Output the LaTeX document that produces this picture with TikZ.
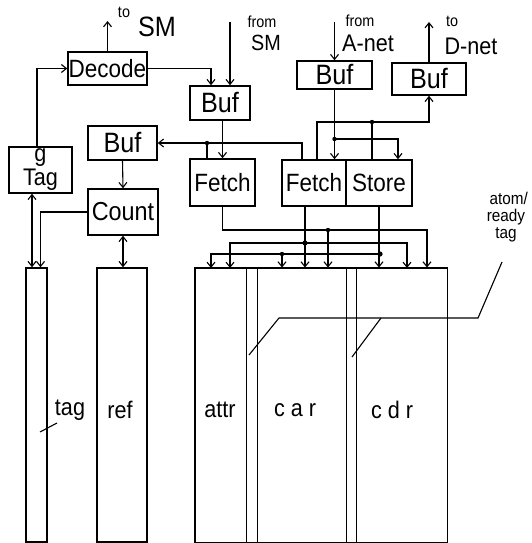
\documentclass[tikz,border=0pt]{standalone}
\usepackage{fontspec}
\newfontfamily\hand[FakeStretch=0.9]{Liberation Sans}
\usetikzlibrary{arrows.meta,calc}
\newcommand\handsz[1]{\hand\fontsize{#1}{#1}\selectfont}
\tikzset{
  box/.style={draw,line width=1.5pt,inner sep=0pt,font=\handsz{25}},
  col/.style={draw,line width=0.8pt,inner sep=0pt,minimum height=274pt},
  wire/.style={line width=1.1pt},
  arr/.style={wire,-{Straight Barb[length=5pt,width=8pt,line width=1.1pt]}},
  dbl/.style={wire,{Straight Barb[length=5pt,width=8pt,line width=1.1pt]}-{Straight Barb[length=5pt,width=8pt,line width=1.1pt]}},
  lbl/.style={inner sep=0pt,font=\handsz{24}},
}

\begin{document}
\begin{tikzpicture}[x=1pt,y=-1pt]
  \useasboundingbox (0,0) rectangle (532,543);
  % boxes
  \node[box,minimum width=79pt,minimum height=33pt] (decode) at (107.5,68.5) {Decode};
  \node[box,minimum width=60pt,minimum height=34pt,font=\handsz{28}] (bufsm) at (220,103) {Buf};
  \node[box,minimum width=75pt,minimum height=28pt,font=\handsz{28}] (bufa) at (334.5,75) {Buf};
  \node[box,minimum width=74pt,minimum height=32pt,font=\handsz{28}] (bufd) at (429,79) {Buf};
  \node[box,minimum width=69pt,minimum height=34pt,font=\handsz{28}] (bufref) at (122.5,143) {Buf};
  \node[box,minimum width=63pt,minimum height=46pt,align=center,font=\handsz{24}] (gtag) at (40.5,170) {g\\Tag};
  \node[box,minimum width=70pt,minimum height=46pt,font=\handsz{26}] (count) at (123,212) {Count};
  \node[box,minimum width=65pt,minimum height=47pt] (fetcha) at (222.5,182.5) {Fetch};
  \node[box,minimum width=64pt,minimum height=46pt] (fetchb) at (314,183) {Fetch};
  \node[box,minimum width=66pt,minimum height=46pt] (store) at (379,183) {Store};

  % memory columns
  \node[col,line width=1.5pt,minimum width=21pt] (tagcol) at (36.5,405) {};
  \node[col,line width=1.5pt,minimum width=50pt] (refcol) at (122,405) {};
  \node[col,minimum width=51pt] (attrcol) at (220.5,405) {};
  \node[col,minimum width=11pt] (abit) at (251.5,405) {};
  \node[col,minimum width=89pt] (carcol) at (301.5,405) {};
  \node[col,minimum width=10pt] (dbit) at (351,405) {};
  \node[col,minimum width=91pt] (cdrcol) at (401.5,405) {};
  \draw[line width=1.5pt] (attrcol.north west) rectangle (cdrcol.south east);

  \node[lbl] (taglbl) at (70,410) {tag};
  \node[lbl] (reflbl) at (120,410) {ref};
  \node[lbl] (attrlbl) at (220,410) {attr};
  \node[lbl] (carlbl) at (295,410) {c a r};
  \node[lbl] (cdrlbl) at (392,410) {c d r};
  \node[lbl,align=center,font=\handsz{17}] (atomlbl) at (506,217) {\,\,atom/\\ready\\tag};

  % outside ends
  \coordinate (tosm) at (107.5,21);
  \coordinate (fromsm) at (230,22);
  \coordinate (froma) at (334.5,22);
  \coordinate (tod) at (429,22);
  \node[lbl,font=\handsz{16}] (tosmto) at (124,12) {to};
  \node[lbl,font=\handsz{28}] (tosmlbl) at (157,27) {SM};
  \node[lbl,font=\handsz{16}] (fromsmfr) at (262,22) {from};
  \node[lbl,font=\handsz{22}] (fromsmlbl) at (266,43) {SM};
  \node[lbl,font=\handsz{16}] (fromafr) at (360,21) {from};
  \node[lbl,font=\handsz{24}] (fromalbl) at (368,43) {A-net};
  \node[lbl,font=\handsz{16}] (todto) at (452,21) {to};
  \node[lbl,font=\handsz{24}] (todlbl) at (471,46) {D-net};

  % upper wiring
  \draw[arr] (decode.north) -- (tosm);
  \draw[arr] ([xshift=-3.5]gtag.north) |- (decode.west);
  \draw[arr] (decode.east) -| ([xshift=-9]bufsm.north);
  \draw[arr] (fromsm) -- (fromsm |- bufsm.north);
  \draw[arr] (bufsm.south -| fetcha.north) -- (fetcha.north);
  \draw[arr] (froma) -- (bufa.north);
  \draw[arr] (bufd.north) -- (tod);

  % fetch results back to ref buffer
  \coordinate (j1) at (207,143);
  \draw[arr] ([xshift=-12]fetchb.north) |- (bufref.east);
  \draw[wire] (j1) -- (j1 |- fetcha.north);
  \fill (j1) circle (2.2pt);

  % A-net buffer to fetch/store
  \coordinate (j2) at (334.5,139);
  \draw[arr] (bufa.south) -- (bufa.south |- fetchb.north);
  \draw[arr] (j2) -| ([xshift=19]store.north);
  \fill (j2) circle (2.2pt);

  % fetch/store to D-net buffer
  \coordinate (j3) at (372,122);
  \draw[arr] ([xshift=3]fetchb.north) |- (j3) -| (bufd.south);
  \draw[wire] (j3) -- (j3 |- store.north);
  \fill (j3) circle (2.2pt);

  % left side
  \draw[dbl] ([xshift=-4.5]tagcol.north) -- ([xshift=-4.5]tagcol.north |- gtag.south);
  \draw[arr] (count.west) -| ([xshift=4]tagcol.north);
  \draw[arr] (bufref.south) -- (count.north);
  \draw[dbl] (count.south) -- (count.south |- refcol.north);

  % buses into memory
  \coordinate (b1) at (427,230);
  \coordinate (j5) at (328,230);
  \draw[arr] (fetcha.south) |- (b1) -- (b1 |- cdrcol.north);
  \draw[arr] (j5) -- (j5 |- carcol.north);
  \fill (j5) circle (2.2pt);

  \coordinate (j6) at (305,243);
  \draw[arr] ([xshift=-9]fetchb.south) -- (j6 |- carcol.north);
  \draw[arr] (j6) -| (230,268);
  \draw[arr] (j6) -| (407,268);
  \fill (j6) circle (2.6pt);

  \coordinate (j7) at (380,254);
  \coordinate (j8) at (282,254);
  \draw[arr] (store.south |- fetchb.south) -- (store.south |- cdrcol.north);
  \draw[arr] (j7) -| (211,268);
  \draw[arr] (j8) -- (j8 |- carcol.north);
  \fill (j7) circle (2.6pt);
  \fill (j8) circle (2.2pt);

  % leaders
  \draw[wire] (40,432) -- (57,423);
  \draw[wire] (502,262) -- (478,318) -- (279,318) -- (249,355);
  \draw[wire] (381,318) -- (352,357);
\end{tikzpicture}
\end{document}
